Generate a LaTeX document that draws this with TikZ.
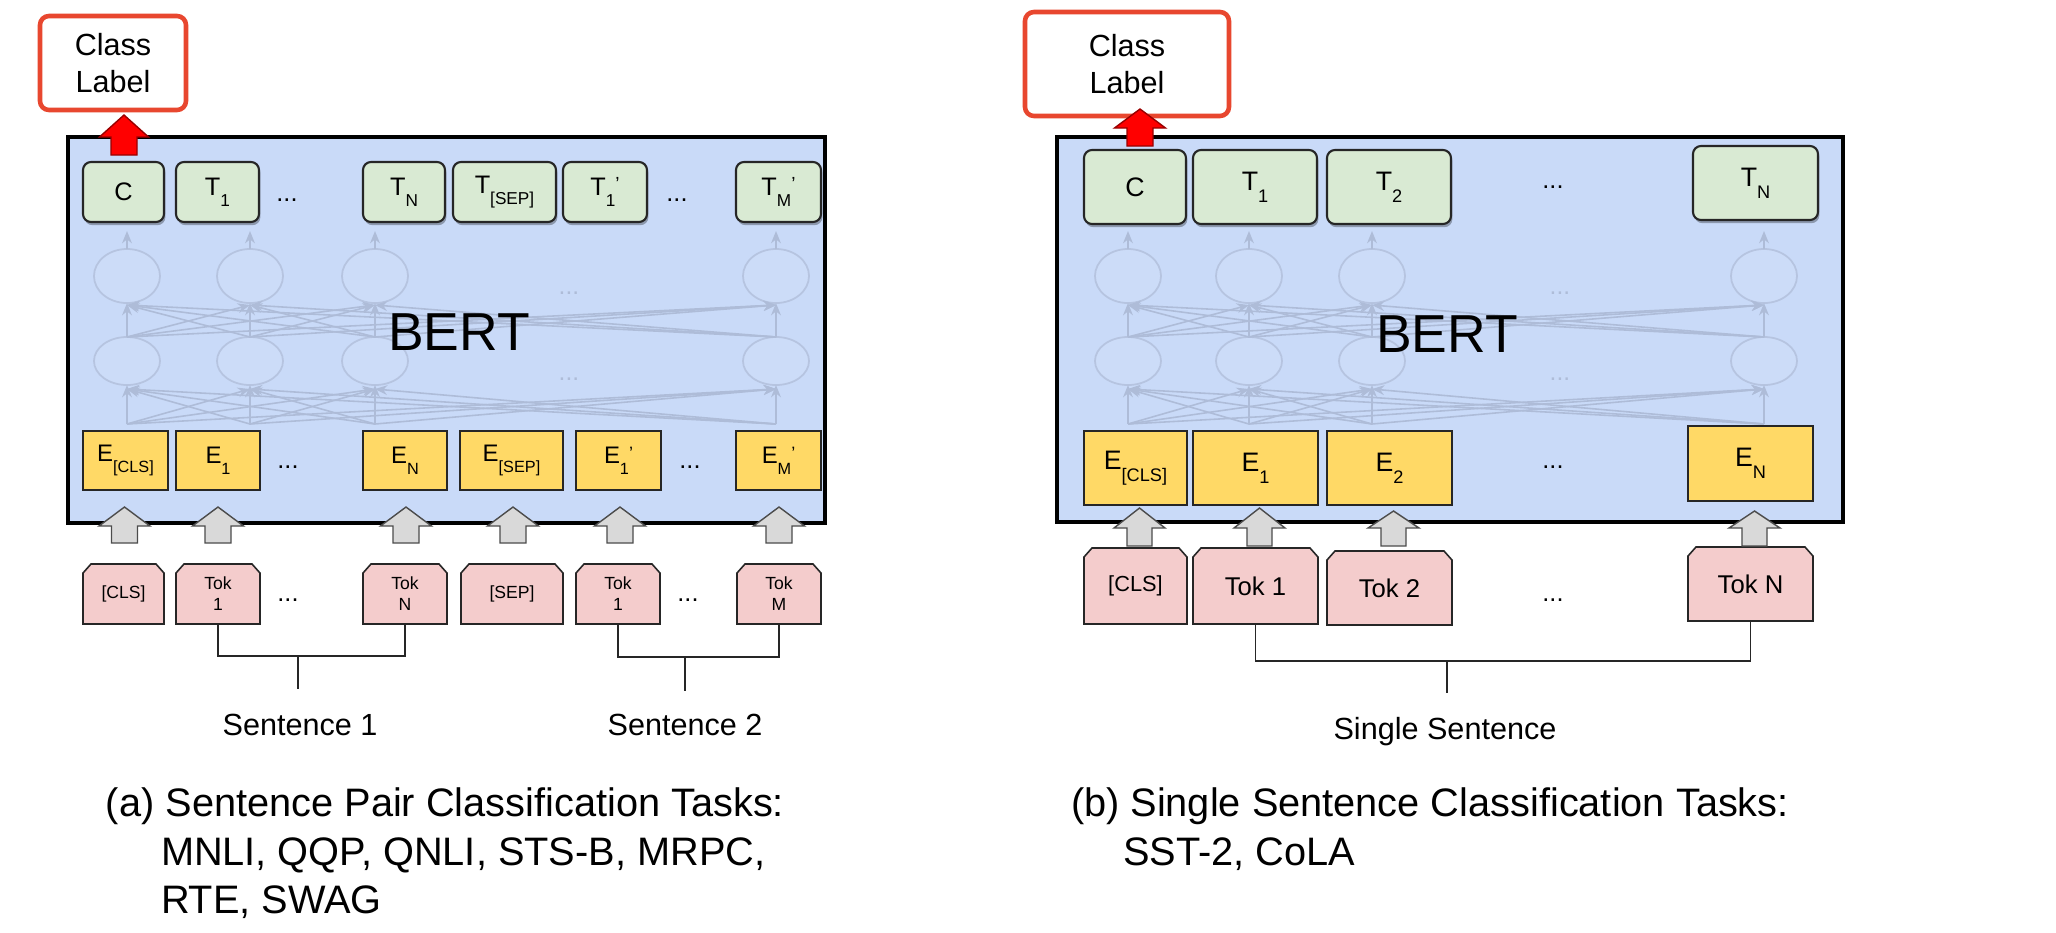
\documentclass[tikz,border=0pt]{standalone}
\usepackage{fontspec}
\setmainfont{Liberation Sans}
\usepackage{graphicx}
\usetikzlibrary{arrows.meta,shadows,shapes.geometric}
\definecolor{bertblue}{HTML}{C9DAF8}
\definecolor{greenfill}{HTML}{D9EAD3}
\definecolor{yellowfill}{HTML}{FFD966}
\definecolor{pinkfill}{HTML}{F4CCCC}
\definecolor{greyfill}{HTML}{D9D9D9}
\definecolor{redline}{HTML}{E8472F}
\definecolor{faintln}{HTML}{AEBCD8}
\definecolor{faintell}{HTML}{B6C4E0}
\definecolor{ellfill}{HTML}{CCDCF8}

\newcommand\sbx[1]{\raisebox{-0.45em}{\scalebox{0.68}{#1}}}
\newcommand\prm{\raisebox{0.18em}{\scalebox{0.75}{’}}}

% style, name, x1, y1, x2, y2, text
\newcommand\bx[7]{\node[#1, minimum width={(#5-#3)*0.01cm}, minimum height={(#6-#4)*0.01cm}] (#2) at ({(#3+#5)/2},{(#4+#6)/2}) {#7};}

% name, x1, y1, x2, y2, text, font style
\newcommand\tk[7]{%
  \draw[pinkshape] (#2,#5) -- (#2,{#3+9}) -- ({#2+8},#3) -- ({#4-8},#3) -- (#4,{#3+9}) -- (#4,#5) -- cycle;
  \bx{tokbox,#7}{#1}{#2}{#3}{#4}{#5}{#6}}

% style, node, dx, ybottom, ybase, ytip, shafthalf, headhalf
\newcommand\blockarrow[8]{%
  \path (#2.center) coordinate (tmpa);
  \begin{scope}[shift={(tmpa |- o)}]
    \draw[#1] ({#3-#7},#4) -- ({#3-#7},#5) -- ({#3-#8},#5) -- (#3,#6) -- ({#3+#8},#5) -- ({#3+#7},#5) -- ({#3+#7},#4) -- cycle;
  \end{scope}}

% faint network: prefix, four column x values
\newcommand\faintnet[5]{%
  \foreach \n/\x in {1/#2,2/#3,3/#4,4/#5}{%
    \node[fell] (#1u\n) at (\x,276) {};
    \node[fell, minimum height=0.48cm] (#1l\n) at (\x,361) {};
    \coordinate (#1b\n) at (\x,424);
    \coordinate (#1t\n) at (\x,231);
  }
  \foreach \i in {1,...,4}{\foreach \j in {1,...,4}{%
    \ifnum\i=\j\relax\else
      \draw[farrow] (#1b\i) -- ([yshift=-0.04cm]#1l\j.south);
      \draw[farrow] (#1l\i.north) -- ([yshift=-0.02cm]#1u\j.south);
    \fi}}
  \foreach \n in {1,...,4}{%
    \draw[farrow] (#1b\n) -- (#1l\n.south);
    \draw[farrow] (#1l\n.north) -- (#1u\n.south);
    \draw[farrow] (#1u\n.north) -- (#1t\n);
  }}

\begin{document}
\begin{tikzpicture}[x=0.01cm, y=-0.01cm,
  every node/.style={inner sep=0pt, outer sep=0pt},
  bertbox/.style={draw=black, line width=1.4pt, fill=bertblue},
  greenbox/.style={draw=black!85, line width=0.6pt, fill=greenfill, rounded corners=0.08cm,
    drop shadow={shadow xshift=0.4pt, shadow yshift=-0.9pt, fill=black, opacity=0.3},
    font=\fontsize{7.2}{8}\selectfont},
  yellowbox/.style={draw=black!85, line width=0.45pt, fill=yellowfill, font=\fontsize{6.8}{8}\selectfont},
  pinkshape/.style={draw=black!85, line width=0.45pt, fill=pinkfill},
  tokbox/.style={align=center, font=\fontsize{5}{6}\selectfont},
  rtok/.style={font=\fontsize{7.3}{8}\selectfont},
  rtoks/.style={font=\fontsize{6.2}{7}\selectfont},
  rfont/.style={font=\fontsize{7.6}{8}\selectfont},
  garrow/.style={draw=black!70, line width=0.4pt, fill=greyfill},
  rarrow/.style={draw=black!40!red, line width=0.4pt, fill=red},
  redbox/.style={draw=redline, line width=1.3pt, fill=white, rounded corners=0.09cm, align=center,
    font=\fontsize{8.7}{10.5}\selectfont},
  berttext/.style={font=\fontsize{15.2}{17}\selectfont},
  dotsfont/.style={font=\fontsize{7.2}{8}\selectfont},
  faintdots/.style={font=\fontsize{7}{8}\selectfont, text=faintln},
  fell/.style={ellipse, draw=faintell, line width=0.5pt, fill=ellfill, minimum width=0.66cm, minimum height=0.54cm},
  farrow/.style={draw=faintln, line width=0.45pt, -{Stealth[length=3.5pt,width=2.8pt]}},
  bracket/.style={draw=black!85, line width=0.5pt},
  lbl/.style={font=\fontsize{8.7}{10}\selectfont},
  capstyle/.style={font=\fontsize{11.3}{12}\selectfont}
]
\useasboundingbox (0,0) rectangle (2056,932);
\fill[white] (0,0) rectangle (2056,932);
\coordinate (o) at (0,0);

% BERT boxes
\bx{bertbox}{lbert}{68}{137}{825}{523}{}
\bx{bertbox}{rbert}{1057}{137}{1843}{522}{}

% faint inner network
\faintnet{l}{127}{250}{375}{776}
\faintnet{r}{1128}{1249}{1372}{1764}
\node[faintdots] (lfd1) at (569,293) {...};
\node[faintdots] (lfd2) at (569,379) {...};
\node[faintdots] (rfd1) at (1560,293) {...};
\node[faintdots] (rfd2) at (1560,379) {...};

% left output boxes
\bx{greenbox}{lC}{83}{162}{164}{222}{C}
\bx{greenbox}{lT1}{176}{162}{259}{222}{T\sbx{1}}
\bx{greenbox}{lTN}{363}{162}{445}{222}{T\sbx{N}}
\bx{greenbox}{lTsep}{453}{162}{556}{222}{T\sbx{[SEP]}}
\bx{greenbox}{lT1p}{563}{162}{647}{222}{T\sbx{1}\prm}
\bx{greenbox}{lTMp}{736}{162}{821}{222}{T\sbx{M}\prm}
\node[dotsfont] (ldt1) at (287,200) {...};
\node[dotsfont] (ldt2) at (677,200) {...};

% left embeddings
\bx{yellowbox}{lEcls}{83}{431}{168}{490}{E\sbx{[CLS]}}
\bx{yellowbox}{lE1}{176}{431}{260}{490}{E\sbx{1}}
\bx{yellowbox}{lEN}{363}{431}{447}{490}{E\sbx{N}}
\bx{yellowbox}{lEsep}{460}{431}{563}{490}{E\sbx{[SEP]}}
\bx{yellowbox}{lE1p}{576}{431}{661}{490}{E\sbx{1}\prm}
\bx{yellowbox}{lEMp}{736}{431}{821}{490}{E\sbx{M}\prm}
\node[dotsfont] (lde1) at (288,467) {...};
\node[dotsfont] (lde2) at (690,467) {...};

% right output boxes
\bx{greenbox,rfont}{rC}{1084}{150}{1186}{224}{C}
\bx{greenbox,rfont}{rT1}{1193}{150}{1317}{224}{T\sbx{1}}
\bx{greenbox,rfont}{rT2}{1327}{150}{1451}{224}{T\sbx{2}}
\bx{greenbox,rfont}{rTN}{1693}{146}{1818}{220}{T\sbx{N}}
\node[dotsfont] (rdt) at (1553,187) {...};

% right embeddings
\bx{yellowbox,rfont}{rEcls}{1084}{431}{1187}{505}{E\sbx{[CLS]}}
\bx{yellowbox,rfont}{rE1}{1193}{431}{1318}{505}{E\sbx{1}}
\bx{yellowbox,rfont}{rE2}{1327}{431}{1452}{505}{E\sbx{2}}
\bx{yellowbox,rfont}{rEN}{1688}{426}{1813}{501}{E\sbx{N}}
\node[dotsfont] (rde) at (1553,467) {...};

% BERT labels
\node[berttext] (lbt) at (459,332) {BERT};
\node[berttext] (rbt) at (1447,334) {BERT};

% class labels
\bx{redbox}{lcl}{40}{16}{186}{110}{Class\\Label}
\bx{redbox}{rcl}{1025}{12}{1229}{116}{Class\\Label}
\blockarrow{rarrow}{lC}{0.5}{155}{137}{115}{13}{24.5}
\blockarrow{rarrow}{rC}{5}{146}{128}{109}{13}{25.5}

% left tokens
\tk{ltcls}{83}{564}{164}{624}{[CLS]}{}
\tk{ltok1}{176}{564}{260}{624}{Tok\\1}{}
\tk{ltokN}{363}{564}{447}{624}{Tok\\N}{}
\tk{ltsep}{461}{564}{563}{624}{[SEP]}{}
\tk{ltok1p}{576}{564}{660}{624}{Tok\\1}{}
\tk{ltokM}{737}{564}{821}{624}{Tok\\M}{}
\node[dotsfont] (ldk1) at (288,600) {...};
\node[dotsfont] (ldk2) at (688,600) {...};

% right tokens
\tk{rtcls}{1084}{548}{1187}{624}{[CLS]}{rtoks}
\tk{rtok1}{1193}{548}{1318}{624}{Tok 1}{rtok}
\tk{rtok2}{1327}{551}{1452}{625}{Tok 2}{rtok}
\tk{rtokN}{1688}{547}{1813}{621}{Tok N}{rtok}
\node[dotsfont] (rdk) at (1553,600) {...};

% grey input arrows
\blockarrow{garrow}{ltcls}{1}{543}{526}{507}{13}{25.5}
\blockarrow{garrow}{ltok1}{0}{543}{526}{507}{13}{25.5}
\blockarrow{garrow}{ltokN}{1}{543}{526}{507}{13}{25.5}
\blockarrow{garrow}{ltsep}{1}{543}{526}{507}{13}{25.5}
\blockarrow{garrow}{ltok1p}{2}{543}{526}{507}{13}{25.5}
\blockarrow{garrow}{ltokM}{0}{543}{526}{507}{13}{25.5}
\blockarrow{garrow}{rtcls}{4}{546}{528}{508}{12.5}{25.5}
\blockarrow{garrow}{rtok1}{4}{546}{528}{508}{12.5}{25.5}
\blockarrow{garrow}{rtok2}{4}{546}{528}{511}{12.5}{25.5}
\blockarrow{garrow}{rtokN}{4}{546}{528}{511}{12.5}{25.5}

% sentence brackets
\coordinate (ls1) at (298,656);
\coordinate (ls1e) at (298,689);
\draw[bracket] (ltok1.south) |- (ls1) -| (ltokN.south);
\draw[bracket] (ls1) -- (ls1e);
\coordinate (ls2) at (685,657);
\coordinate (ls2e) at (685,691);
\draw[bracket] (ltok1p.south) |- (ls2) -| (ltokM.south);
\draw[bracket] (ls2) -- (ls2e);
\coordinate (rs) at (1447,661);
\coordinate (rse) at (1447,693);
\draw[bracket] (rtok1.south) |- (rs) -| (rtokN.south);
\draw[bracket] (rs) -- (rse);

\node[lbl, anchor=base] (sent1) at (300,735) {Sentence 1};
\node[lbl, anchor=base] (sent2) at (685,735) {Sentence 2};
\node[lbl, anchor=base] (sents) at (1445,739) {Single Sentence};

% captions
\node[capstyle, anchor=base west] (capa1) at (106,816) {(a) Sentence Pair Classification Tasks:};
\node[capstyle, anchor=base west] (capa2) at (161,865) {MNLI, QQP, QNLI, STS-B, MRPC,};
\node[capstyle, anchor=base west] (capa3) at (161,913) {RTE, SWAG};
\node[capstyle, anchor=base west] (capb1) at (1071,816) {(b) Single Sentence Classification Tasks:};
\node[capstyle, anchor=base west] (capb2) at (1123,865) {SST-2, CoLA};
\end{tikzpicture}
\end{document}
